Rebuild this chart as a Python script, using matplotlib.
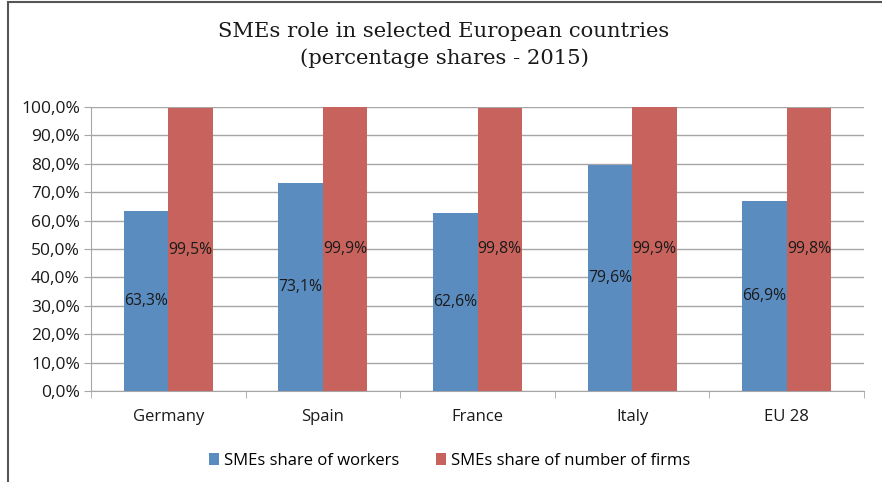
import matplotlib.pyplot as plt
import numpy as np
from matplotlib.patches import Rectangle
from matplotlib.ticker import FixedLocator

countries = ['Germany', 'Spain', 'France', 'Italy', 'EU 28']
workers = [63.3, 73.1, 62.6, 79.6, 66.9]
firms = [99.5, 99.9, 99.8, 99.9, 99.8]
yticks = np.arange(0, 101, 10)

blue = '#5B8CC0'
red = '#C7635C'
grid_gray = '#A6A6A6'
label_font = 'Open Sans'

fig = plt.figure(figsize=(8.82, 4.82), dpi=100)

# outer frame (only top/left visible in the original crop)
fig.patches.append(Rectangle((8 / 882, -0.1), 1.2, 1 - 2 / 482 + 0.1,
                             transform=fig.transFigure, fill=False,
                             edgecolor='#555555', linewidth=1.5))

ax = fig.add_axes([91 / 882, 91 / 482, 773 / 882, 284 / 482])

x = np.arange(len(countries))
w = 0.288
b1 = ax.bar(x - w / 2, workers, w, color=blue, zorder=3)
b2 = ax.bar(x + w / 2, firms, w, color=red, zorder=3)

for bars, vals in ((b1, workers), (b2, firms)):
    for rect, v in zip(bars, vals):
        ax.text(rect.get_x() + rect.get_width() / 2, v / 2,
                f'{v:.1f}%'.replace('.', ','), ha='center', va='center',
                fontsize=11.3, color='#1a1a1a', family=label_font, zorder=4)

ax.set_xlim(-0.5, len(countries) - 0.5)
ax.set_ylim(0, 100)
ax.set_yticks(yticks)
ax.set_yticklabels([f'{v:.1f}%'.replace('.', ',') for v in yticks],
                   family=label_font, fontsize=12.5, color='#1a1a1a')
ax.yaxis.grid(True, color=grid_gray, linewidth=1, zorder=0)

ax.set_xticks(x)
ax.set_xticklabels(countries, family=label_font, fontsize=12, color='#1a1a1a')
ax.tick_params(axis='x', length=0, pad=13)
ax.xaxis.set_minor_locator(FixedLocator(np.arange(-0.5, len(countries), 1)))
ax.tick_params(axis='x', which='minor', length=5, color=grid_gray)
ax.tick_params(axis='y', length=5, color=grid_gray, pad=3)

for s in ('top', 'right'):
    ax.spines[s].set_visible(False)
ax.spines['left'].set_color(grid_gray)
ax.spines['bottom'].set_color(grid_gray)

fig.suptitle('SMEs role in selected European countries\n(percentage shares - 2015)',
             x=444 / 882, y=1 - 22 / 482, va='top', family='DejaVu Serif',
             fontsize=15.2, linespacing=1.45, color='#1a1a1a')

leg = fig.legend([b1, b2], ['SMEs share of workers', 'SMEs share of number of firms'],
                 loc='center', bbox_to_anchor=(450 / 882, 1 - 461 / 482), ncol=2,
                 frameon=False, prop={'family': label_font, 'size': 12},
                 handlelength=0.6, handleheight=0.7, handletextpad=0.3,
                 columnspacing=2.2)

fig.savefig('out.png', dpi=100)
